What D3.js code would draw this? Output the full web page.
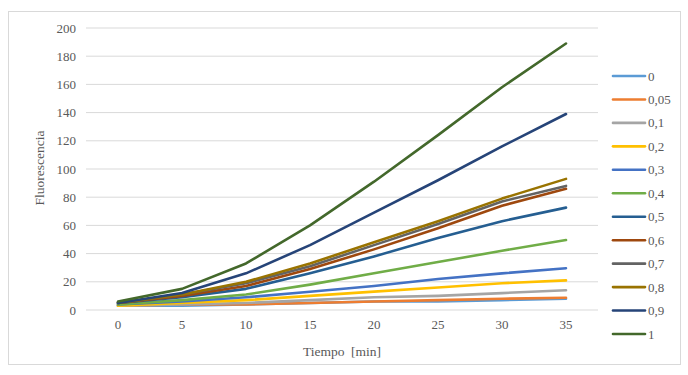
<!DOCTYPE html>
<html>
<head>
<meta charset="utf-8">
<script src="https://cdn.jsdelivr.net/npm/d3@7/dist/d3.min.js"></script>
<style>
  html, body { margin: 0; padding: 0; background: #fff; }
  svg { display: block; }
  text { font-family: "Liberation Serif", "Times New Roman", serif; fill: #595959; }
</style>
</head>
<body>
<svg id="chart" width="688" height="375"></svg>
<script>
// Time points (minutes) on the x axis
const times = [0, 5, 10, 15, 20, 25, 30, 35];

// Series names (concentrations) and their colours
const seriesNames = ["0", "0,05", "0,1", "0,2", "0,3", "0,4", "0,5", "0,6", "0,7", "0,8", "0,9", "1"];
const seriesColors = ["#5B9BD5", "#ED7D31", "#A5A5A5", "#FFC000", "#4472C4", "#70AD47",
                      "#255E91", "#9E480E", "#636363", "#997300", "#264478", "#43682B"];

// Fluorescence readings per series
const s0   = [3, 3, 4, 5, 6, 6, 7, 8];
const s005 = [3, 4, 4, 5, 6, 7, 8, 8.7];
const s01  = [3, 4, 5, 7, 9, 10, 12, 14];
const s02  = [3, 5, 7, 10, 13, 16, 19, 21];
const s03  = [4, 6, 9, 13, 17, 22, 26, 29.6];
const s04  = [4, 7, 11, 18, 26, 34, 42, 49.6];
const s05  = [5, 9, 15, 26, 38, 51, 63, 72.6];
const s06  = [5, 10, 17, 29, 43, 58, 74, 86];
const s07  = [5, 11, 19, 31, 46, 61, 77, 88];
const s08  = [5, 11, 20, 33, 48, 63, 79, 93];
const s09  = [5, 12, 26, 46, 69, 92, 116, 139];
const s1   = [6, 15, 33, 60, 91, 124, 158, 189];
const seriesValues = [s0, s005, s01, s02, s03, s04, s05, s06, s07, s08, s09, s1];

// Axis tick labels
const yTicks = [0, 20, 40, 60, 80, 100, 120, 140, 160, 180, 200];

const svg = d3.select("#chart");

// Outer chart frame
svg.append("rect")
  .attr("x", 8.5).attr("y", 11.5)
  .attr("width", 672).attr("height", 353)
  .attr("fill", "none").attr("stroke", "#d9d9d9");

const plot = { left: 86, right: 598, top: 28, bottom: 310 };

const x = d3.scaleBand().domain(times).range([plot.left, plot.right]);
const y = d3.scaleLinear().domain([0, 200]).range([plot.bottom, plot.top]);

// Horizontal gridlines
svg.append("g")
  .selectAll("line")
  .data(yTicks)
  .join("line")
  .attr("x1", plot.left).attr("x2", plot.right)
  .attr("y1", d => y(d)).attr("y2", d => y(d))
  .attr("stroke", "#d9d9d9").attr("stroke-width", 1);

// Y axis labels
const yAxis = svg.append("g")
  .attr("transform", `translate(${plot.left - 10},0)`)
  .call(d3.axisLeft(y).tickValues(yTicks).tickSize(0).tickPadding(0));
yAxis.select(".domain").remove();
yAxis.selectAll("text")
  .style("font-size", "13px")
  .style("font-family", "Liberation Serif, serif")
  .attr("fill", "#595959");

// X axis labels
const xAxis = svg.append("g")
  .attr("transform", `translate(0,${plot.bottom + 10})`)
  .call(d3.axisBottom(x).tickSize(0).tickPadding(0));
xAxis.select(".domain").remove();
xAxis.selectAll("text")
  .attr("dy", "0.71em")
  .style("font-size", "13px")
  .style("font-family", "Liberation Serif, serif")
  .attr("fill", "#595959");

// Axis titles
svg.append("text")
  .attr("x", 342).attr("y", 356)
  .attr("text-anchor", "middle")
  .style("font-size", "13.5px")
  .style("word-spacing", "3px")
  .text("Tiempo [min]");

svg.append("text")
  .attr("transform", "translate(44,168) rotate(-90)")
  .attr("text-anchor", "middle")
  .style("font-size", "13.5px")
  .text("Fluorescencia");

// Series lines
const line = d3.line()
  .x((d, i) => x(times[i]) + x.bandwidth() / 2)
  .y(d => y(d));

svg.append("g")
  .selectAll("path")
  .data(seriesValues)
  .join("path")
  .attr("d", d => line(d))
  .attr("fill", "none")
  .attr("stroke", (d, i) => seriesColors[i])
  .attr("stroke-width", 2.6)
  .attr("stroke-linejoin", "round")
  .attr("stroke-linecap", "round");

// Legend
const legend = svg.append("g");
const legendRow = d3.scaleLinear().domain([0, seriesNames.length - 1]).range([76, 334]);
const items = legend.selectAll("g")
  .data(seriesNames)
  .join("g")
  .attr("transform", (d, i) => `translate(613,${legendRow(i)})`);
items.append("line")
  .attr("x1", 0).attr("x2", 32)
  .attr("stroke", (d, i) => seriesColors[i])
  .attr("stroke-width", 2.6)
  .attr("stroke-linecap", "round");
items.append("text")
  .attr("x", 35).attr("y", 0)
  .attr("dy", "0.35em")
  .style("font-size", "13px")
  .text(d => d);
</script>
</body>
</html>
